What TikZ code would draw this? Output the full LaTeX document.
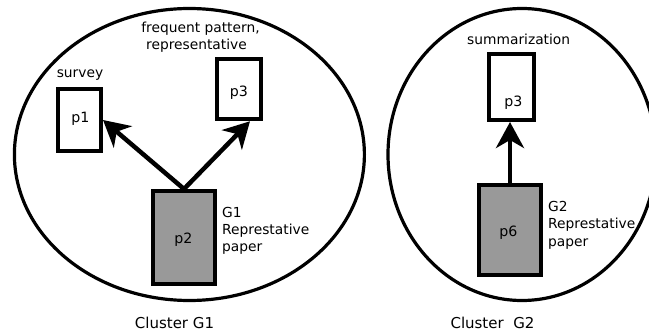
\documentclass[tikz,border=0pt]{standalone}
\usepackage{fontspec}
\setmainfont{DejaVu Sans}
\usetikzlibrary{arrows.meta,shapes.geometric}
\definecolor{repgray}{HTML}{999999}
\begin{document}
\begin{tikzpicture}[x=1pt,y=-1pt,
  cluster/.style={draw=black, line width=3.2pt, ellipse, inner sep=0pt},
  paperbox/.style={draw=black, line width=4pt, inner sep=0pt, fill=white},
  repbox/.style={paperbox, fill=repgray},
  lbl/.style={font=\fontsize{13.8}{16}\selectfont, inner sep=0pt, anchor=base},
  lblw/.style={lbl, anchor=base west},
  plbl/.style={font=\fontsize{14.2}{16}\selectfont, inner sep=0pt, anchor=base},
  clbl/.style={font=\fontsize{15}{17}\selectfont, inner sep=0pt, anchor=base},
  link/.style={line width=4.5pt, -{Stealth[length=26pt, width=28pt, inset=8pt]}}
]
\useasboundingbox (0,0) rectangle (649,332);
\clip (0,0) rectangle (649,332);

% clusters
\node[cluster, minimum width=350pt, minimum height=292pt] (g1) at (189.4,154.5) {};
\node[cluster, minimum width=268pt, minimum height=292pt] (g2) at (522,154.5) {};

% cluster G1 papers
\node[paperbox, minimum width=43pt, minimum height=62pt] (p1) at (79.5,120) {};
\node[paperbox, minimum width=44pt, minimum height=60.5pt] (p3a) at (239,89) {};
\node[repbox, minimum width=62pt, minimum height=93pt] (p2) at (184,237.5) {};

\node[plbl] (p1t) at (80.5,122) {p1};
\node[plbl] (p3at) at (239,96) {p3};
\node[plbl] (p2t) at (183.5,243) {p2};

\node[lbl] (survey) at (80,77) {survey};
\node[lbl] (freq) at (200.5,32) {frequent pattern,};
\node[lbl] (reprs) at (196.5,49) {representative};
\node[lblw] (g1a) at (222,217) {G1};
\node[lblw] (g1b) at (222,234) {Represtative};
\node[lblw] (g1c) at (222,251) {paper};
\node[clbl] (c1) at (174.5,328) {Cluster G1};

\draw[link] (p2.north) -- (p1.east);
\draw[link] (p2.north) -- ([xshift=11pt]p3a.south);

% cluster G2 papers
\node[paperbox, minimum width=45pt, minimum height=66pt] (p3b) at (511.5,87) {};
\node[repbox, minimum width=62pt, minimum height=90pt] (p6) at (510,230) {};

\node[plbl] (p3bt) at (513.5,106) {p3};
\node[plbl] (p6t) at (508.5,236) {p6};

\node[lbl] (summ) at (518.7,45) {summarization};
\node[lblw] (g2a) at (548,211) {G2};
\node[lblw] (g2b) at (548,228) {Represtative};
\node[lblw] (g2c) at (548,246) {paper};
\node[clbl] (c2) at (492.5,328) {Cluster\ \ G2};

\draw[link] (p6.north) -- (p6.north |- p3b.south);
\end{tikzpicture}
\end{document}
